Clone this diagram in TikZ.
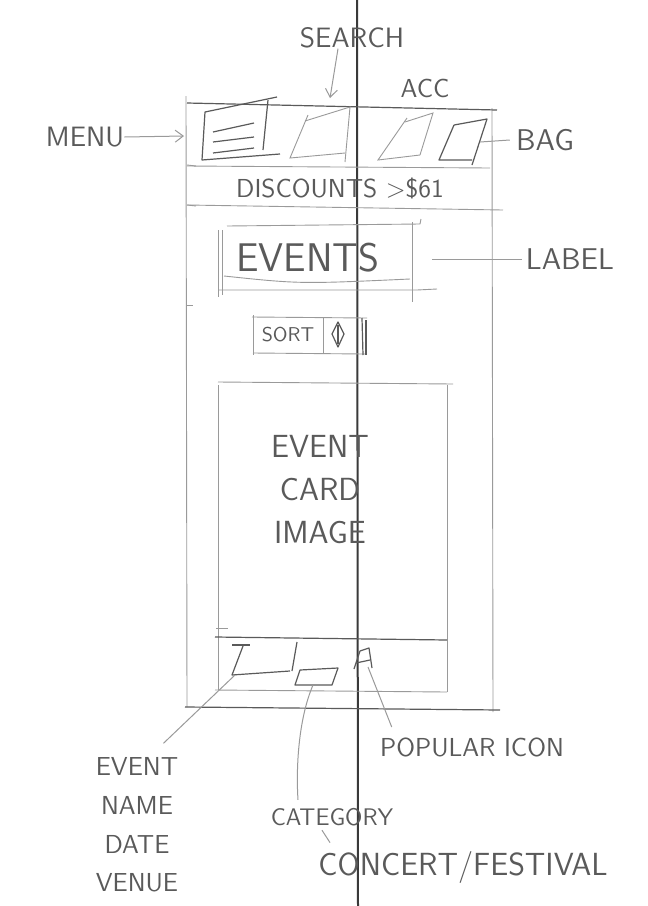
\documentclass[tikz,border=0pt]{standalone}
\usetikzlibrary{positioning,arrows.meta}
\definecolor{pencil}{HTML}{9A9A9A}
\definecolor{lead}{HTML}{5A5A5A}
\definecolor{fold}{HTML}{3A3A3A}

\begin{document}
\begin{tikzpicture}[
    x=0.5pt, y=-0.5pt,
    hand/.style={font=\sffamily\fontsize{#1}{#1}\selectfont, text=lead, inner sep=0pt},
    hand/.default=14,
    frame/.style={draw=pencil, line width=0.45pt},
    ink/.style={draw=lead, line width=0.6pt, line join=round},
    leader/.style={draw=pencil, line width=0.5pt},
    ptr/.style={leader, -{Straight Barb[length=4pt,width=6pt]}},
]
  \fill[white] (0,0) rectangle (648,906);
  \useasboundingbox (0,0) rectangle (648,906);
  %% fold line of the sheet
  \draw[draw=fold, line width=1pt] (357,0) -- (358,906);
  %% phone frame
  \draw[frame] (186,96) -- (187,707); \draw[frame] (492,108) -- (493,712);
  \draw[ink] (187,103) -- (497,110); \draw[ink] (185,707) -- (500,710);
  \draw[frame] (187,166) -- (490,168); \draw[frame] (187,205) -- (503,210);
  \draw[frame] (187,165) -- (196,166); \draw[frame] (187,205) -- (196,206); \draw[frame] (186,305) -- (193,305);
  %% header icons
  \draw[ink] (277,97) -- (205,112) -- (202,160) -- (280,154); \draw[ink] (268,100) -- (263,150);
  \foreach \ya/\yb in {132/123, 142/137, 153/148} \draw[ink] (213,\ya) -- (254,\yb);
  \coordinate (menuic) at (184,136);
  \draw[frame] (308,115) -- (290,158) -- (345,153); \draw[frame] (305,121) -- (350,107) -- (345,162);
  \coordinate (searchic) at (330,98);
  \draw[frame] (407,118) -- (378,160) -- (420,155); \draw[frame] (405,122) -- (433,113) -- (420,155);
  \draw[ink] (454,125) -- (487,119) -- (472,165); \draw[ink] (454,125) -- (439,160) -- (472,160);
  \coordinate (bagic) at (480,142);
  %% header labels
  \node[hand] (menu) at (85,137) {MENU};
  \node[hand] (search) at (352,38) {SEARCH};
  \node[hand=13] (acc) at (425,88) {ACC};
  \node[hand=15] (bag) at (545,140) {BAG};
  \draw[ptr] (menu.east) -- (menuic);
  \draw[ptr] ([xshift=-7pt]search.south) -- (searchic);
  \draw[leader] (bagic) -- ([xshift=-3pt]bag.west);
  %% discounts bar
  \node[hand=13] (disc) at (340,188) {DISCOUNTS >\$61};
  %% page label
  \draw[frame] (227,226) -- (420,224) -- (421,219); \draw[frame] (218,290) -- (417,290) -- (437,289);
  \draw[frame] (218,230) -- (218,297); \draw[frame] (222,230) -- (222,295); \draw[frame] (412,222) -- (412,302);
  \draw[frame] (224,276) .. controls (300,284) .. (410,279);
  \node[hand=20] (events) at (308,258) {EVENTS};
  \coordinate (eventsbox) at (432,259);
  \node[hand=15] (label) at (570,259) {LABEL};
  \draw[leader] (eventsbox) -- ([xshift=-2pt]label.west);
  %% sort control
  \draw[frame] (252,317) -- (367,318); \draw[frame] (253,353) -- (365,354);
  \draw[frame] (253,315) -- (253,355); \draw[frame] (323,318) -- (323,353);
  \draw[ink] (362,318) -- (363,355); \draw[ink] (366,320) -- (366,355);
  \node[hand=10] (sort) at (288,335) {SORT};
  \draw[ink] (338,322) -- (332,334) -- (338,347) -- (344,334) -- cycle; \draw[ink] (338,325) -- (338,344);
  %% event card
  \draw[frame] (218,382) -- (453,384); \draw[frame] (218,385) -- (218,690); \draw[frame] (447,385) -- (447,692);
  \draw[ink] (215,637) -- (447,640); \draw[frame] (215,690) -- (447,692); \draw[frame] (216,628) -- (228,628);
  \node[font=\sffamily\fontsize{16}{21.5}\selectfont, text=lead, inner sep=0pt, align=center] (cardimg)
        at (320,490) {EVENT\\CARD\\IMAGE};
  %% card strip icons
  \draw[ink] (232,645) -- (250,645); \draw[ink] (243,646) -- (232,675) -- (290,671); \draw[ink] (297,642) -- (292,671);
  \coordinate (nameic) at (235,675);
  \draw[ink] (300,670) -- (338,668) -- (332,685) -- (295,685) -- cycle;
  \coordinate (catic) at (313,685);
  \draw[ink] (354,669) -- (360,651) -- (369,648) -- (372,668); \draw[ink] (356,663) -- (370,660);
  \coordinate (popic) at (368,667);
  %% callouts below
  \node[font=\sffamily\fontsize{13}{19.4}\selectfont, text=lead, inner sep=0pt, align=center] (evinfo)
        at (137,825) {EVENT\\NAME\\DATE\\VENUE};
  \node[hand=13] (popular) at (472,747) {POPULAR ICON};
  \node[hand=12] (category) at (332,817) {CATEGORY};
  \node[hand=16] (concert) at (463,867) {CONCERT/FESTIVAL};
  \draw[leader, shorten >=10pt] (nameic) -- ([xshift=6pt]evinfo.north);
  \draw[leader] (catic) .. controls (298,720) and (296,770) .. ([xshift=-17pt,yshift=4pt]category.north);
  \draw[leader] (popic) -- ([xshift=6pt,yshift=5pt]popular.north west);
  \draw[leader] ([xshift=-5pt,yshift=-2pt]category.south) -- ([xshift=6pt,yshift=4pt]concert.north west);
\end{tikzpicture}
\end{document}
